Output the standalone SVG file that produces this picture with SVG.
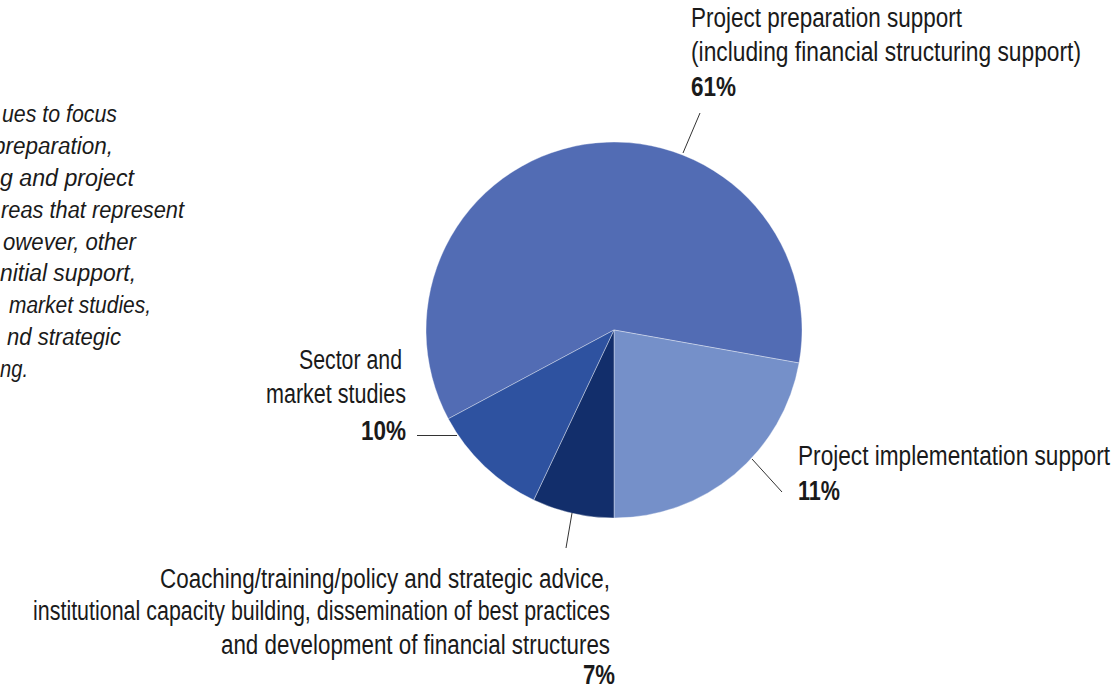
<svg xmlns="http://www.w3.org/2000/svg" width="1114" height="686" viewBox="0 0 1114 686">
<style>
.lbl{font-family:"Liberation Sans",Arial,sans-serif;font-size:27px;fill:#1a1a1a}
.b{font-weight:bold}
.it{font-family:"Liberation Sans",Arial,sans-serif;font-size:23px;font-style:italic;fill:#1a1a1a}
.ln{stroke:#333;stroke-width:1;fill:none}
.sl{stroke:#ffffff;stroke-width:0.6;stroke-opacity:0.6}
</style>
<rect width="1114" height="686" fill="#ffffff"/>
<g id="intro-text">
<text class="it" x="2" y="122" textLength="115" lengthAdjust="spacingAndGlyphs">ues to focus</text>
<text class="it" x="-7" y="154" textLength="120" lengthAdjust="spacingAndGlyphs">preparation,</text>
<text class="it" x="0" y="186" textLength="134" lengthAdjust="spacingAndGlyphs">g and project</text>
<text class="it" x="1" y="218" textLength="183" lengthAdjust="spacingAndGlyphs">reas that represent</text>
<text class="it" x="3" y="250" textLength="133" lengthAdjust="spacingAndGlyphs">owever, other</text>
<text class="it" x="0" y="281" textLength="136" lengthAdjust="spacingAndGlyphs">nitial support,</text>
<text class="it" x="9" y="313" textLength="142" lengthAdjust="spacingAndGlyphs">market studies,</text>
<text class="it" x="7" y="345" textLength="114" lengthAdjust="spacingAndGlyphs">nd strategic</text>
<text class="it" x="0" y="377" textLength="28" lengthAdjust="spacingAndGlyphs">ng.</text>
</g>
<g id="pie">
<g id="slice-preparation"><path class="sl" fill="#526CB4" d="M614,330 L448.3,418.8 A188,188 0 1,1 799.1,363 Z"/></g>
<g id="slice-implementation"><path class="sl" fill="#7590C9" d="M614,330 L799.1,363 A188,188 0 0,1 614,518 Z"/></g>
<g id="slice-coaching"><path class="sl" fill="#122E6B" d="M614,330 L614,518 A188,188 0 0,1 533.7,500 Z"/></g>
<g id="slice-sector"><path class="sl" fill="#2E52A0" d="M614,330 L533.7,500 A188,188 0 0,1 448.3,418.8 Z"/></g>
</g>
<g id="connectors">
<line class="ln" x1="700" y1="113" x2="683" y2="153"/>
<line class="ln" x1="752" y1="459" x2="782" y2="492"/>
<line class="ln" x1="417" y1="435.5" x2="457" y2="435.5"/>
<line class="ln" x1="572" y1="513" x2="566" y2="548"/>
</g>
<g id="label-preparation">
<text class="lbl" x="691" y="27" textLength="271" lengthAdjust="spacingAndGlyphs">Project preparation support</text>
<text class="lbl" x="691" y="61" textLength="390" lengthAdjust="spacingAndGlyphs">(including financial structuring support)</text>
<text class="lbl b" x="691" y="96" textLength="45" lengthAdjust="spacingAndGlyphs">61%</text>
</g>
<g id="label-implementation">
<text class="lbl" x="798" y="465" textLength="312" lengthAdjust="spacingAndGlyphs">Project implementation support</text>
<text class="lbl b" x="798" y="500" textLength="42" lengthAdjust="spacingAndGlyphs">11%</text>
</g>
<g id="label-sector">
<text class="lbl" x="299" y="369" textLength="103" lengthAdjust="spacingAndGlyphs">Sector and</text>
<text class="lbl" x="266" y="403" textLength="140" lengthAdjust="spacingAndGlyphs">market studies</text>
<text class="lbl b" x="361" y="440" textLength="45" lengthAdjust="spacingAndGlyphs">10%</text>
</g>
<g id="label-coaching">
<text class="lbl" x="160" y="588" textLength="450" lengthAdjust="spacingAndGlyphs">Coaching/training/policy and strategic advice,</text>
<text class="lbl" x="33" y="620" textLength="577" lengthAdjust="spacingAndGlyphs">institutional capacity building, dissemination of best practices</text>
<text class="lbl" x="221" y="654" textLength="389" lengthAdjust="spacingAndGlyphs">and development of financial structures</text>
<text class="lbl b" x="583" y="684" textLength="32" lengthAdjust="spacingAndGlyphs">7%</text>
</g>
</svg>
